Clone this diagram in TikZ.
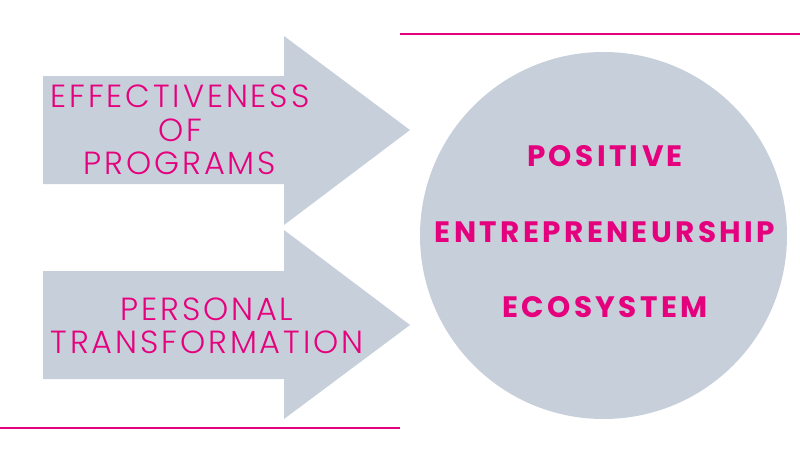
\documentclass[tikz,border=0pt]{standalone}
\usepackage{fontspec}
\setmainfont{Poppins}
\newfontfamily\thinfont{Poppins Light}[LetterSpace=9]
\newfontfamily\boldfont{Poppins Bold}[LetterSpace=11.5]
\usepackage{tikz}
\usetikzlibrary{positioning}
\definecolor{accent}{HTML}{E5007D}
\definecolor{slate}{HTML}{C7D0DA}

\begin{document}
\begin{tikzpicture}[x=1pt,y=-1pt,
  arrowshape/.style={fill=slate},
  rule/.style={draw=accent,line width=2pt},
  label/.style={text=accent,align=center,font=\thinfont\fontsize{32}{33.5}\selectfont},
  core/.style={text=accent,font=\boldfont\fontsize{29.5}{30}\selectfont}
]
\useasboundingbox (0,0) rectangle (800,460);

% pink rules
\draw[rule] (400,34) -- (800,34);
\draw[rule] (0,428) -- (400,428);

% arrows
\fill[arrowshape] (43,76) -- (284,76) -- (284,36) -- (410,130) -- (284,225) -- (284,184) -- (43,184) -- cycle;
\fill[arrowshape] (43,271) -- (284,271) -- (284,230) -- (410,325) -- (284,419) -- (284,379) -- (43,379) -- cycle;

% circle
\node[circle,fill=slate,minimum size=367pt,inner sep=0pt] (eco) at (603.5,235.5) {};

\node[label] (effect) at (180,130) {EFFECTIVENESS\\OF\\PROGRAMS};
\node[label] (personal) at (207,326) {PERSONAL\\TRANSFORMATION};

\node[core] (ent) at (605,232) {ENTREPRENEURSHIP};
\node[core,above=76pt of ent.center,anchor=center] (pos) {POSITIVE};
\node[core,below=75pt of ent.center,anchor=center] (sys) {ECOSYSTEM};
\end{tikzpicture}
\end{document}
